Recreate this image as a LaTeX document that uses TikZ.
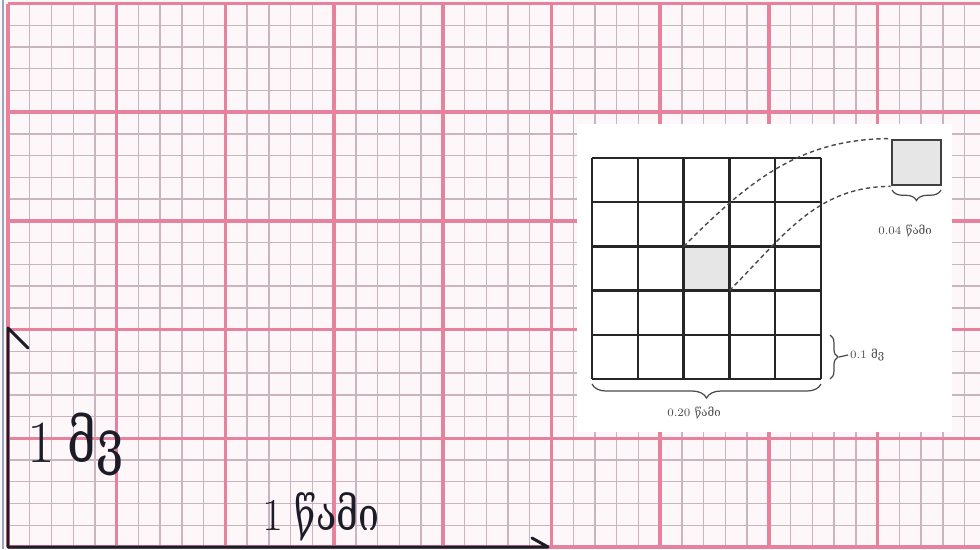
\documentclass[tikz,border=0pt]{standalone}
\usepackage{fontspec}
\usepackage{graphicx}
\newfontfamily\kafont{DejaVu Serif}
\usetikzlibrary{arrows.meta,positioning,decorations.pathreplacing,calc}
\definecolor{PaperWhite}{HTML}{FEF7F9}
\definecolor{MajorPink} {HTML}{E6829E}
\definecolor{MinorPink} {HTML}{C9B5C0}
\definecolor{AxisInk}   {HTML}{1C1C28}
\definecolor{EdgeBlue}  {HTML}{97A6BA}
\definecolor{CellGray}  {HTML}{E6E6E6}
\definecolor{InkGray}   {HTML}{4A4A4A}
\newcommand{\kanarrow}[1]{\scalebox{0.82}[1]{\kafont #1}}
\tikzset{
  minorline/.style={MinorPink,line width=0.8pt},
  majorline/.style={MajorPink,line width=2pt},
  axisline/.style={AxisInk,line width=1.7pt,line cap=round,line join=round},
  cellgrid/.style={black!85,line width=1.4pt},
  brc/.style={decorate,decoration={brace,amplitude=#1},InkGray,line width=0.7pt},
  link/.style={InkGray,line width=0.8pt,dash pattern=on 2.5pt off 1.8pt},
  smalllbl/.style={font=\fontsize{6.5}{7}\selectfont,text=InkGray,inner sep=1pt},
  biglbl/.style={font=\fontsize{#1}{#1}\selectfont,text=AxisInk,inner sep=0pt},
}

\begin{document}
\begin{tikzpicture}[x=0.02cm,y=0.02cm]
  \useasboundingbox (0,0) rectangle (980,549);
  \fill[PaperWhite] (0,0) rectangle (980,549);

  % ECG paper
  \foreach \i in {0,...,44}
    \draw[minorline] ({8+21.74*\i},2) -- ({8+21.74*\i},545.5);
  \foreach \j in {0,...,25}
    \draw[minorline] (8,{2+21.74*\j}) -- (980,{2+21.74*\j});
  \foreach \i in {0,...,8}
    \draw[majorline] ({8+108.7*\i},2) -- ({8+108.7*\i},545.5);
  \foreach \j in {0,...,5}
    \draw[majorline] (8,{2+108.7*\j}) -- (980,{2+108.7*\j});
  \draw[EdgeBlue,line width=1.6pt] (3,0) -- (3,549);

  % axes
  \coordinate (origin) at (8,2);
  \coordinate (ytop)   at (8,221);
  \coordinate (ybarb)  at (28,201);
  \coordinate (xend)   at (548,2);
  \coordinate (xbarb)  at (532,11);
  \draw[axisline] (ybarb) -- (ytop) -- (origin) -- (xend) -- (xbarb);

  \node[biglbl=34pt,anchor=base west] (mvlbl) at (27,87) {1\hspace{0.22em}\kanarrow{მვ}};
  \node[biglbl=26pt,anchor=base west] (seclbl) at (262,19) {1\hspace{0.25em}\kanarrow{წამი}};

  % inset
  \fill[white] (577,117) rectangle (952,425);
  \fill[CellGray] (683.6,258.4) rectangle (729.4,302.6);
  \foreach \k in {0,...,5} {
    \draw[cellgrid] ({592+45.8*\k},170) -- ({592+45.8*\k},391);
    \draw[cellgrid] (592,{170+44.2*\k}) -- (821,{170+44.2*\k});
  }
  \coordinate (cellNW) at (683.6,302.6);
  \coordinate (cellSE) at (729.4,258.4);
  \node[draw=black!75,line width=1.6pt,fill=CellGray,inner sep=0pt,
        minimum width=0.98cm,minimum height=0.9cm] (zoomsq) at (916.5,386.5) {};
  \draw[link] (cellNW) to[out=45,in=180] (zoomsq.north west);
  \draw[link] (cellSE) to[out=45,in=180] (zoomsq.south west);

  \draw[brc=8pt] (821,165) -- (592,165);
  \node[smalllbl] (widelbl) at (694,136) {0.20 {\kafont წამი}};
  \draw[brc=4.5pt] (830,214) -- (830,170);
  \coordinate (rtip) at (839,192);
  \node[smalllbl,anchor=west] (rowlbl) at (848,194) {0.1 {\kafont მვ}};
  \draw[InkGray,line width=0.7pt] (rtip) -- (rowlbl.west);
  \draw[brc=6pt] (941,359) -- (892,359);
  \node[smalllbl] (sqlbl) at (905,318) {0.04 {\kafont წამი}};
\end{tikzpicture}
\end{document}
